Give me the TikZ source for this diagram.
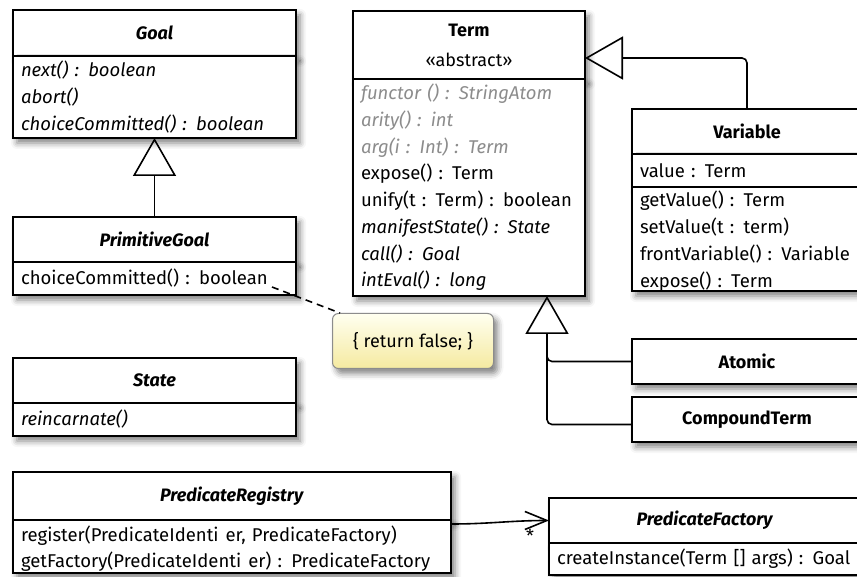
\documentclass[tikz,border=0pt]{standalone}
\usepackage{fontspec}
\setmainfont{Fira Sans}
\usetikzlibrary{arrows.meta,shadows.blur}

\definecolor{umlgray}{RGB}{140,140,140}
\definecolor{notetop}{RGB}{255,255,240}
\definecolor{notebottom}{RGB}{245,234,160}

\newcommand{\toprow}{\rule{0pt}{20pt}}

\tikzset{
  box/.style={draw, line width=1.6pt, fill=white, anchor=north west,
    inner xsep=8pt, inner ysep=0pt, outer sep=0pt,
    blur shadow={shadow xshift=4pt, shadow yshift=-5pt, shadow blur radius=6pt, shadow opacity=50}},
  classname/.style={box, text width=#1, align=center, font=\fontsize{18}{30}\selectfont\bfseries},
  members/.style={box, text width=#1, align=left, font=\fontsize{18.5}{26.7}\selectfont},
  note/.style={draw=umlgray, line width=1pt, rounded corners=6pt, anchor=north west,
    top color=notetop, bottom color=notebottom, minimum width=161pt, minimum height=55pt,
    font=\fontsize{18}{20}\selectfont,
    blur shadow={shadow xshift=4pt, shadow yshift=-5pt, shadow blur radius=6pt, shadow opacity=50}},
  inherit/.style={line width=1.6pt, rounded corners=5pt, -{Triangle[open, length=38pt, width=43pt]}},
  assoc/.style={line width=1.6pt, -{Straight Barb[length=22pt, width=18pt]}},
  notelink/.style={line width=1.6pt, dash pattern=on 7pt off 5pt}
}

\begin{document}
\begin{tikzpicture}[x=1pt, y=-1pt]
\useasboundingbox (0,0) rectangle (857,577);
\clip (0,0) rectangle (857,577);

% Goal
\node[classname=267pt, minimum height=46pt] (goalname) at (13,10) {\textit{Goal}};
\node[members=267pt, minimum height=82pt] (goalbody) at (goalname.south west)
  {\textit{next() : boolean}\\ \textit{abort()}\\ \textit{choiceCommitted() : boolean}};

% Term
\node[classname=216pt, minimum height=68pt] (termname) at (353,11) {Term\\ \mdseries «abstract»};
\node[members=216pt, minimum height=217pt] (termbody) at (termname.south west)
  {\textcolor{umlgray}{\textit{functor () : StringAtom}}\\
   \textcolor{umlgray}{\textit{arity() : int}}\\
   \textcolor{umlgray}{\textit{arg(i : Int) : Term}}\\
   expose() : Term\\
   unify(t : Term) : boolean\\
   \textit{manifestState() : State}\\
   \textit{call() : Goal}\\
   \textit{intEval() : long}};

% Variable
\node[classname=214pt, minimum height=45pt] (varname) at (632,109) {Variable};
\node[members=214pt, minimum height=33pt] (varattr) at (varname.south west) {value : Term};
\node[members=214pt, minimum height=102pt] (varops) at (varattr.south west)
  {\toprow getValue() : Term\\ setValue(t : term)\\ frontVariable() : Variable\\ expose() : Term};

% PrimitiveGoal
\node[classname=267pt, minimum height=45pt] (primname) at (13,217) {\textit{PrimitiveGoal}};
\node[members=267pt, minimum height=33pt] (primbody) at (primname.south west) {choiceCommitted() : boolean};

\node[note] (retnote) at (332,313) {\{ return false; \}};

% State
\node[classname=267pt, minimum height=45pt] (statename) at (13,358) {\textit{State}};
\node[members=267pt, minimum height=33pt] (statebody) at (statename.south west) {\textit{reincarnate()}};

% Atomic, CompoundTerm
\node[classname=214pt, minimum height=45pt] (atomic) at (632,339) {Atomic};
\node[classname=214pt, minimum height=45pt] (compound) at (632,397) {CompoundTerm};

% PredicateRegistry, PredicateFactory
\node[classname=422pt, minimum height=48pt] (regname) at (13,472) {\textit{PredicateRegistry}};
\node[members=422pt, minimum height=53pt] (regbody) at (regname.south west)
  {\toprow register(PredicateIdenti\hspace{7pt}er, PredicateFactory)\\ getFactory(PredicateIdenti\hspace{7pt}er) : PredicateFactory};
\node[classname=296pt, minimum height=45pt] (factname) at (549,498) {\textit{PredicateFactory}};
\node[members=296pt, minimum height=32pt] (factbody) at (factname.south west) {createInstance(Term [] args) : Goal};

% connectors
\coordinate (termfoot) at (547,296);
\coordinate (notepin) at (272,287);

\draw[inherit] (primname.north) -- (goalbody.south);
\draw[inherit] (varname.north) |- ([yshift=-13pt]termname.east);
\draw[inherit] (atomic.west) -| (termfoot);
\draw[line width=1.6pt, rounded corners=5pt] ([yshift=-5pt]compound.west) -| ([yshift=-40pt]termfoot);
\draw[notelink] (notepin) -- ([xshift=8pt]retnote.north west);
\draw[assoc] ([yshift=-4pt]regbody.north east) to[out=0, in=180] (factname.west);
\node[font=\fontsize{18}{20}\selectfont, inner sep=0pt] (mult) at (530,536) {*};
\end{tikzpicture}
\end{document}
